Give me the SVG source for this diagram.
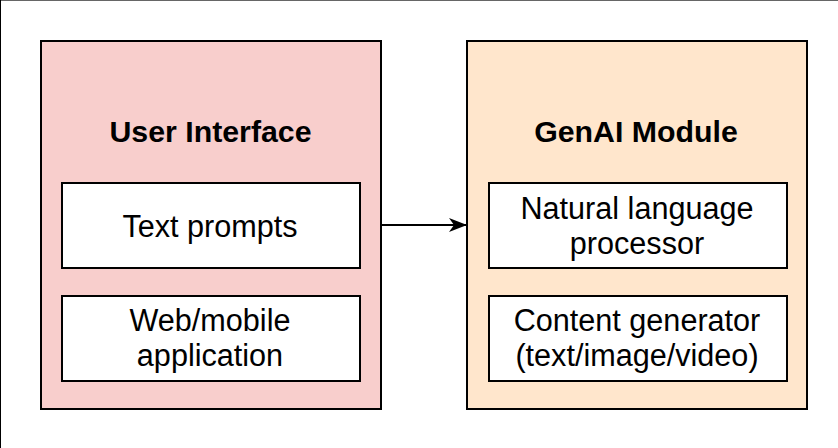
<svg xmlns="http://www.w3.org/2000/svg" width="838" height="448" viewBox="0 0 838 448">
<style>
.t{font-family:"Liberation Sans",Arial,Helvetica,sans-serif;font-size:30.6px;fill:#000;text-anchor:middle}
.b{font-weight:bold;font-size:30.3px}
.inner{fill:#fff;stroke:#000;stroke-width:2}
.box{stroke:#000;stroke-width:2}
</style>
<defs>
<marker id="ah" markerWidth="18" markerHeight="14" refX="17" refY="7" orient="auto" markerUnits="userSpaceOnUse">
<path d="M0,0 L18,7 L0,14 L5,7 Z" fill="#000"/>
</marker>
</defs>
<rect x="0" y="0" width="838" height="448" fill="#fff"/>
<line x1="0" y1="0.5" x2="838" y2="0.5" stroke="#666" stroke-width="1"/>
<line x1="0.5" y1="0" x2="0.5" y2="448" stroke="#000" stroke-width="1"/>
<g id="ui">
<rect class="box" x="41" y="41" width="340" height="368" fill="#f8cecc"/>
<text class="t b" x="210.5" y="142">User Interface</text>
</g>
<g id="text-prompts">
<rect class="inner" x="62" y="183" width="298" height="85"/>
<text class="t" x="210" y="237">Text prompts</text>
</g>
<g id="web-mobile">
<rect class="inner" x="62" y="296" width="298" height="85"/>
<text class="t" x="210" y="331">Web/mobile</text>
<text class="t" x="210" y="366">application</text>
</g>
<g id="genai">
<rect class="box" x="467" y="41" width="340" height="368" fill="#ffe6cc"/>
<text class="t b" x="636" y="142">GenAI Module</text>
</g>
<g id="nlp">
<rect class="inner" x="489" y="183" width="298" height="85"/>
<text class="t" x="637" y="219">Natural language</text>
<text class="t" x="637" y="254">processor</text>
</g>
<g id="content-gen">
<rect class="inner" x="489" y="296" width="298" height="85"/>
<text class="t" x="637" y="331">Content generator</text>
<text class="t" x="637" y="366">(text/image/video)</text>
</g>
<g id="connectors">
<line x1="381" y1="225" x2="466" y2="225" stroke="#000" stroke-width="2" marker-end="url(#ah)"/>
</g>
</svg>
